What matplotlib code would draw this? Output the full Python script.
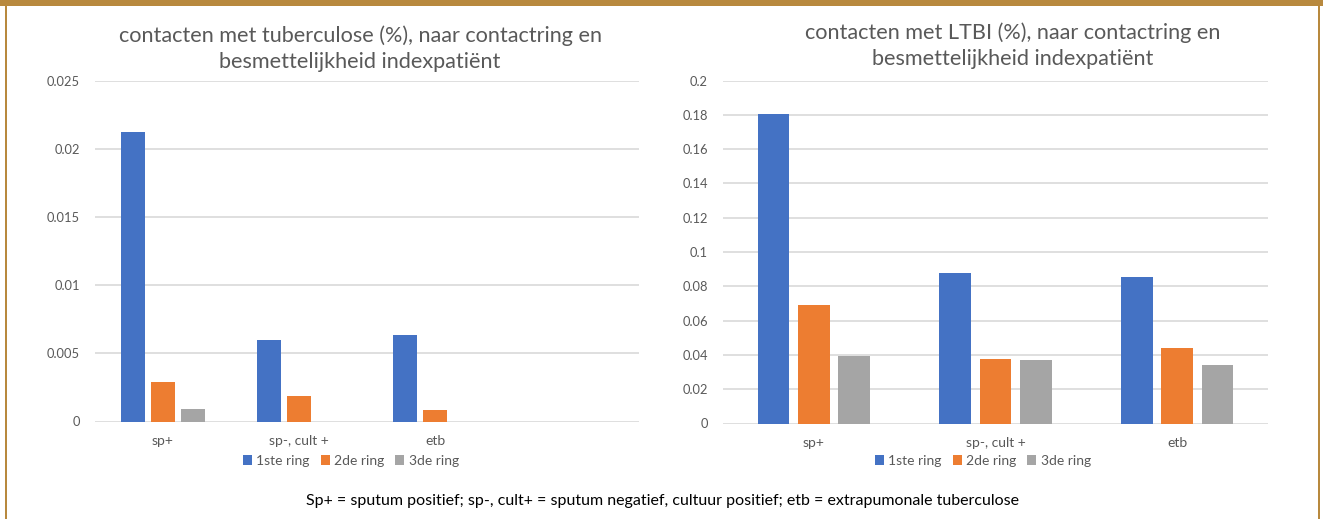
import numpy as np
import matplotlib.pyplot as plt
from matplotlib.patches import Rectangle
from matplotlib.ticker import FormatStrFormatter

# data
tb_cats = ['sp+', 'sp-, cult +', 'etb', '']
tb_ring1 = [0.02125, 0.00596, 0.00638, np.nan]
tb_ring2 = [0.00288, 0.00188, 0.00084, np.nan]
tb_ring3 = [0.00094, 0.0, 0.0, np.nan]

ltbi_cats = ['sp+', 'sp-, cult +', 'etb']
ltbi_ring1 = [0.1805, 0.088, 0.0852]
ltbi_ring2 = [0.0693, 0.0375, 0.0438]
ltbi_ring3 = [0.0392, 0.0368, 0.0343]

series_names = ['1ste ring', '2de ring', '3de ring']
colors = ['#4472C4', '#ED7D31', '#A5A5A5']

tb_ticks = [0, 0.005, 0.01, 0.015, 0.02, 0.025]
ltbi_ticks = [0, 0.02, 0.04, 0.06, 0.08, 0.1, 0.12, 0.14, 0.16, 0.18, 0.2]

title_tb = 'contacten met tuberculose (%), naar contactring en\nbesmettelijkheid indexpatiënt'
title_ltbi = 'contacten met LTBI (%), naar contactring en\nbesmettelijkheid indexpatiënt'
caption = 'Sp+ = sputum positief; sp-, cult+ = sputum negatief, cultuur positief; etb = extrapumonale tuberculose'

plt.rcParams['font.family'] = ['Lato', 'DejaVu Sans']
W, H = 1323, 519
fig = plt.figure(figsize=(W / 100, H / 100), dpi=100)
fig.patch.set_facecolor('white')

grey_txt = '#595959'
border = '#B8893E'


def px(x0, y_top, x1, y_bot):
    return [x0 / W, 1 - y_bot / H, (x1 - x0) / W, (y_bot - y_top) / H]


def draw(ax, cats, vals, ticks):
    n = len(cats)
    x = np.arange(n)
    b = 1 / 5.73
    offs = [-1.27 * b, 0, 1.27 * b]
    for v, o, c, name in zip(vals, offs, colors, series_names):
        ax.bar(x + o, v, width=b, color=c, label=name, zorder=3)
    ax.set_xlim(-0.5, n - 0.5)
    ax.set_ylim(ticks[0], ticks[-1])
    ax.set_yticks(ticks)
    ax.yaxis.set_major_formatter(FormatStrFormatter('%g'))
    ax.set_xticks(x)
    ax.set_xticklabels(cats)
    ax.grid(axis='y', color='#D9D9D9', linewidth=1.2, zorder=0)
    for s in ax.spines.values():
        s.set_visible(False)
    ax.tick_params(length=0, colors=grey_txt)
    ax.tick_params(axis='y', pad=11, labelsize=9.3)
    ax.tick_params(axis='x', pad=10, labelsize=10)


ax1 = fig.add_axes(px(95, 81, 639, 421.5))
draw(ax1, tb_cats, [tb_ring1, tb_ring2, tb_ring3], tb_ticks)
ax2 = fig.add_axes(px(723, 80.5, 1268, 423.5))
draw(ax2, ltbi_cats, [ltbi_ring1, ltbi_ring2, ltbi_ring3], ltbi_ticks)

fig.text(360 / W, 1 - 48.5 / H, title_tb, ha='center', va='center',
         fontsize=15.6, color=grey_txt, linespacing=1.4)
fig.text(1013 / W, 1 - 46 / H, title_ltbi, ha='center', va='center',
         fontsize=15.6, color=grey_txt, linespacing=1.4)

for ax, cx in [(ax1, 351), (ax2, 983)]:
    h, l = ax.get_legend_handles_labels()
    fig.legend(h, l, loc='center', bbox_to_anchor=(cx / W, 1 - 461 / H),
               ncol=3, frameon=False, fontsize=10, labelcolor=grey_txt,
               handlelength=0.65, handleheight=0.65, handletextpad=0.3,
               columnspacing=0.8, borderaxespad=0)

fig.text(662 / W, 1 - 501 / H, caption, ha='center', va='center',
         fontsize=11.5, color='black')

# frame
fig.add_artist(Rectangle((0, 1 - 6 / H), 1, 6 / H, transform=fig.transFigure,
                         color=border, lw=0))
fig.add_artist(Rectangle((5 / W, 0), 2 / W, 1, transform=fig.transFigure,
                         color=border, lw=0))
fig.add_artist(Rectangle((1318 / W, 0), 2 / W, 1, transform=fig.transFigure,
                         color=border, lw=0))

fig.savefig('out.png', dpi=100)
